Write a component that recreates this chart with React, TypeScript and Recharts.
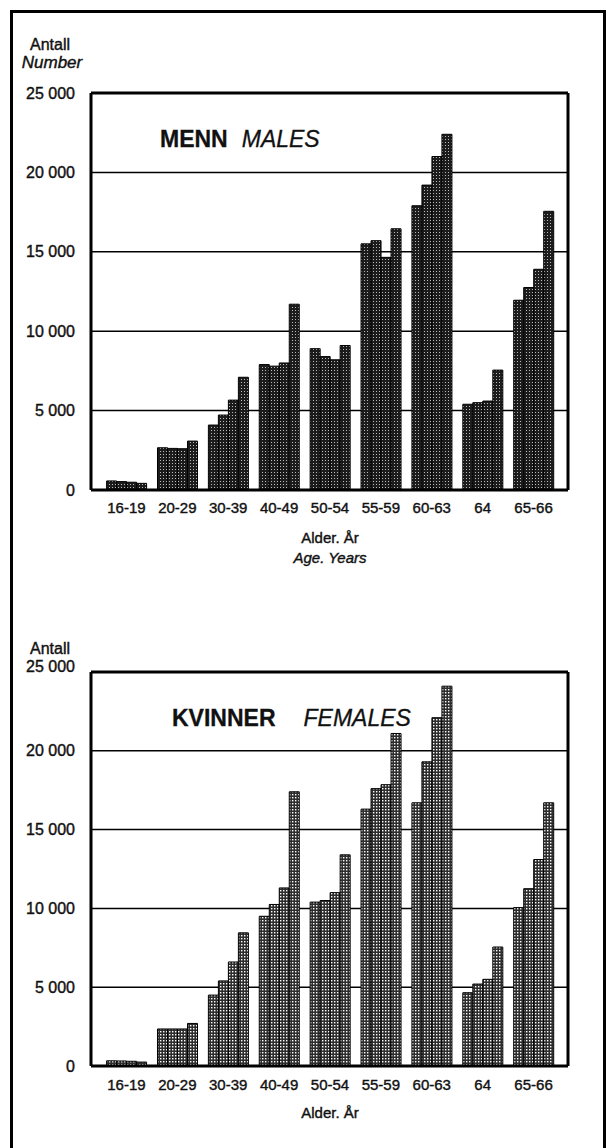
import React from 'react';
import { BarChart, Bar, XAxis, YAxis, CartesianGrid } from 'recharts';

const AGE_GROUPS = ['16-19', '20-29', '30-39', '40-49', '50-54', '55-59', '60-63', '64', '65-66'];

// four bars per age group, read left to right
const MALES_1 = [570, 2660, 4090, 7900, 8900, 15500, 17900, 5400, 11950];
const MALES_2 = [530, 2620, 4720, 7800, 8400, 15700, 19200, 5500, 12750];
const MALES_3 = [490, 2600, 5660, 8000, 8200, 14650, 21000, 5600, 13900];
const MALES_4 = [420, 3080, 7100, 11700, 9100, 16450, 22400, 7550, 17550];

const FEMALES_1 = [330, 2350, 4500, 9500, 10400, 16300, 16700, 4650, 10050];
const FEMALES_2 = [320, 2350, 5400, 10250, 10500, 17600, 19300, 5200, 11250];
const FEMALES_3 = [300, 2350, 6600, 11300, 11000, 17850, 22100, 5500, 13100];
const FEMALES_4 = [250, 2700, 8450, 17400, 13400, 21100, 24100, 7550, 16700];

const Y_TICKS = [0, 5000, 10000, 15000, 20000, 25000];

const FONT = '"Liberation Sans", Arial, Helvetica, sans-serif';
const INK = '#111';

const fmt = (v: number) => String(v).replace(/\B(?=(\d{3})+(?!\d))/g, ' ');

const build = (a: number[], b: number[], c: number[], d: number[]) =>
  AGE_GROUPS.map((age, i) => ({ age, a: a[i], b: b[i], c: c[i], d: d[i] }));

const maleData = build(MALES_1, MALES_2, MALES_3, MALES_4);
const femaleData = build(FEMALES_1, FEMALES_2, FEMALES_3, FEMALES_4);

function YTick(props: any) {
  const { x, y, payload, topShift } = props;
  const shift = payload.value === 25000 ? topShift : 0;
  return (
    <text x={x} y={y + shift} dy="0.35em" textAnchor="end" fontSize={16} fontFamily={FONT}
      fill={INK} stroke={INK} strokeWidth={0.4}>
      {fmt(payload.value)}
    </text>
  );
}

function Panel({ data, fill, marginTop, marginBottom, tickMargin, topShift }: any) {
  const frame = { stroke: '#000', strokeWidth: 3 };
  return (
    <BarChart
      width={609}
      height={530}
      data={data}
      margin={{ top: marginTop, right: 40, bottom: marginBottom, left: 11 }}
      barCategoryGap="11%"
      barGap={0}
    >
      <CartesianGrid vertical={false} stroke="#000" strokeWidth={1.5} />
      <XAxis
        dataKey="age"
        height={30}
        padding={{ left: 10, right: 9 }}
        axisLine={frame}
        tickLine={false}
        tickSize={0}
        tickMargin={tickMargin}
        interval={0}
        tick={{ fontSize: 15, fontFamily: FONT, fill: INK, stroke: INK, strokeWidth: 0.4 }}
      />
      <XAxis xAxisId="top" dataKey="age" orientation="top" height={1} tick={false} tickLine={false} axisLine={frame} />
      <YAxis
        domain={[0, 25000]}
        ticks={Y_TICKS}
        width={80}
        axisLine={frame}
        tickLine={false}
        tickSize={0}
        tickMargin={16}
        tick={(p: any) => <YTick {...p} topShift={topShift} />}
      />
      <YAxis yAxisId="right" orientation="right" domain={[0, 25000]} width={1} tick={false} tickLine={false} axisLine={frame} />
      {['a', 'b', 'c', 'd'].map((k) => (
        <Bar key={k} dataKey={k} fill={fill} stroke="#000" strokeWidth={1} isAnimationActive={false} />
      ))}
    </BarChart>
  );
}

const text = (extra: React.CSSProperties): React.CSSProperties => ({
  position: 'absolute',
  fontFamily: FONT,
  color: INK,
  fontSize: 16,
  lineHeight: '16px',
  whiteSpace: 'nowrap',
  WebkitTextStroke: '0.4px #111',
  ...extra,
});

export default function App() {
  return (
    <div style={{ position: 'absolute', left: 0, top: 0, width: 609, height: 1148, background: '#fff', overflow: 'hidden' }}>
      <svg width={0} height={0} style={{ position: 'absolute' }}>
        <defs>
          <pattern id="dotsDark" width={3} height={3} patternUnits="userSpaceOnUse">
            <rect width={3} height={3} fill="#1c1c1c" />
            <rect x={1} y={1} width={1} height={1} fill="#bbb" />
          </pattern>
          <pattern id="dotsLight" width={3} height={3} patternUnits="userSpaceOnUse">
            <rect width={3} height={3} fill="#2e2e2e" />
            <rect x={1} y={1} width={1.4} height={1.4} fill="#fff" />
          </pattern>
        </defs>
      </svg>

      <div style={{ position: 'absolute', left: 10, top: 10, width: 596, height: 1150, border: '3px solid #000', boxSizing: 'border-box' }} />

      <div style={{ position: 'absolute', left: 0, top: 0 }}>
        <Panel data={maleData} fill="url(#dotsDark)" marginTop={92} marginBottom={10} tickMargin={12} topShift={0} />
      </div>
      <div style={{ position: 'absolute', left: 0, top: 580 }}>
        <Panel data={femaleData} fill="url(#dotsLight)" marginTop={91} marginBottom={14} tickMargin={13} topShift={-6} />
      </div>

      <div style={text({ left: 20, width: 60, top: 37, textAlign: 'center' })}>Antall</div>
      <div style={text({ left: 20, width: 64, top: 55, textAlign: 'center', fontStyle: 'italic', fontSize: 17 })}>Number</div>
      <div style={text({ left: 20, width: 60, top: 641, textAlign: 'center' })}>Antall</div>

      <div style={text({ left: 160, top: 127, fontSize: 23, lineHeight: '24px', WebkitTextStroke: '0.3px #111' })}>
        <b>MENN</b>
        <i style={{ marginLeft: 14 }}>MALES</i>
      </div>
      <div style={text({ left: 172, top: 706, fontSize: 23, lineHeight: '24px', WebkitTextStroke: '0.3px #111' })}>
        <b>KVINNER</b>
        <i style={{ marginLeft: 28 }}>FEMALES</i>
      </div>

      <div style={text({ left: 230, width: 200, top: 530, textAlign: 'center', fontSize: 15 })}>Alder. År</div>
      <div style={text({ left: 230, width: 200, top: 550, textAlign: 'center', fontStyle: 'italic', fontSize: 15 })}>Age. Years</div>
      <div style={text({ left: 230, width: 200, top: 1105, textAlign: 'center', fontSize: 15 })}>Alder. År</div>
    </div>
  );
}
